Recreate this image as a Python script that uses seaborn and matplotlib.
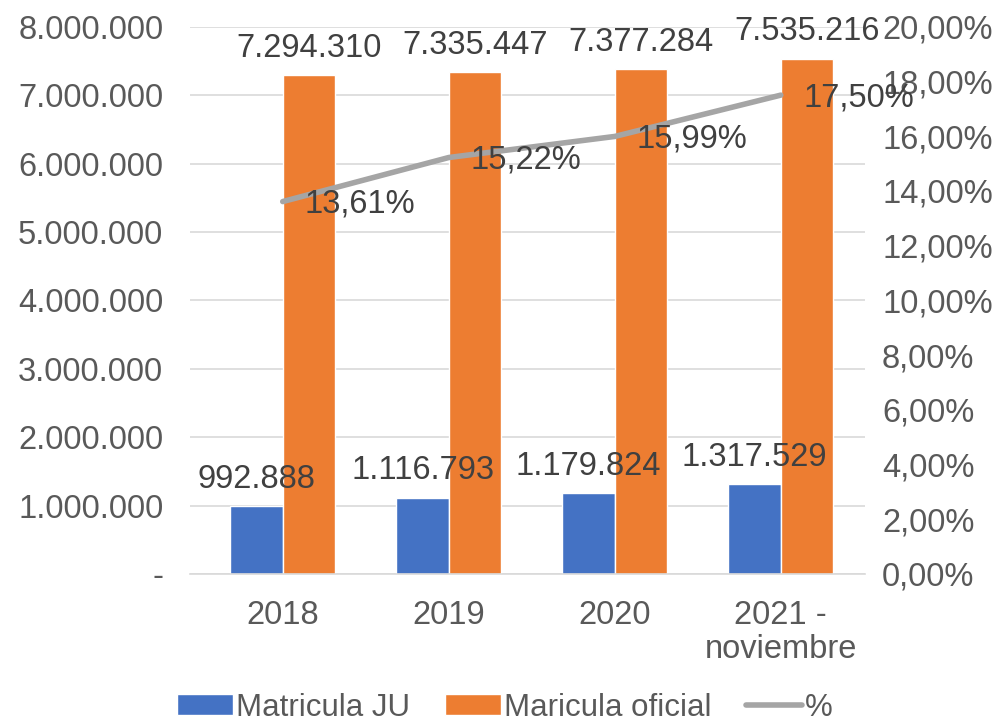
import numpy as np
import pandas as pd
import matplotlib
matplotlib.use("Agg")
import matplotlib.pyplot as plt
import seaborn as sns
from matplotlib.patches import Patch
from matplotlib.lines import Line2D
from matplotlib.ticker import FuncFormatter, MultipleLocator

categories = ["2018", "2019", "2020", "2021 -\nnoviembre"]
matricula_ju = [992888, 1116793, 1179824, 1317529]
matricula_oficial = [7294310, 7335447, 7377284, 7535216]
porcentaje = [13.61, 15.22, 15.99, 17.50]
series_names = ["Matricula JU", "Maricula oficial", "%"]
colors = ["#4472C4", "#ED7D31", "#A5A5A5"]

sns.set_theme(style="white")
plt.rcParams["font.family"] = ["Liberation Sans", "DejaVu Sans"]

FS = 23.5

df = pd.DataFrame({
    "cat": categories * 2,
    "serie": [series_names[0]] * 4 + [series_names[1]] * 4,
    "valor": matricula_ju + matricula_oficial,
})

fig = plt.figure(figsize=(10.04, 7.22), dpi=100)
ax = fig.add_axes([0.189, 0.205, 0.673, 0.758])
sns.barplot(data=df, x="cat", y="valor", hue="serie", order=categories,
            hue_order=series_names[:2], palette=colors[:2], width=0.63,
            saturation=1, ax=ax, legend=False)

def thousands(v):
    return f"{int(round(v)):,}".replace(",", ".")

for cont in ax.containers:
    vals = [thousands(b.get_height()) for b in cont]
    ax.bar_label(cont, labels=vals, fontsize=FS, color="#404040", padding=8)

ax.set_ylim(0, 8000000)
ax.yaxis.set_major_locator(MultipleLocator(1000000))
ax.yaxis.set_major_formatter(FuncFormatter(lambda v, p: "-" if v == 0 else thousands(v)))
ax.set_xlim(-0.56, 3.51)
ax.grid(axis="y", color="#D9D9D9", linewidth=1.2)
ax.set_axisbelow(True)
ax.set_xlabel("")
ax.set_ylabel("")
for s in ["top", "left", "right"]:
    ax.spines[s].set_visible(False)
ax.spines["bottom"].set_color("#D9D9D9")
ax.spines["bottom"].set_linewidth(1.2)
ax.tick_params(axis="both", length=0, labelsize=FS, labelcolor="#595959")
ax.tick_params(axis="y", pad=19)
ax.tick_params(axis="x", pad=19)
for lbl in ax.get_xticklabels():
    lbl.set_linespacing(1.12)

ax2 = ax.twinx()
xpos = np.arange(len(categories))
sns.lineplot(x=xpos, y=porcentaje, ax=ax2, color=colors[2], linewidth=4)
ax2.set_ylim(0, 20)
ax2.yaxis.set_major_locator(MultipleLocator(2))
ax2.yaxis.set_major_formatter(FuncFormatter(lambda v, p: f"{v:.2f}".replace(".", ",") + "%"))
ax2.tick_params(axis="y", length=0, labelsize=FS, labelcolor="#595959", pad=12)
for s in ["top", "left", "right", "bottom"]:
    ax2.spines[s].set_visible(False)
ax2.set_ylabel("")
ax2.set_xlim(-0.56, 3.51)
for xp, p in zip(xpos, porcentaje):
    ax2.annotate(f"{p:.2f}".replace(".", ",") + "%", (xp, p), xytext=(16, -2),
                 textcoords="offset points", fontsize=FS, color="#404040",
                 ha="left", va="center")

handles = [Patch(facecolor=colors[0]), Patch(facecolor=colors[1]),
           Line2D([0], [0], color=colors[2], linewidth=4)]
leg = fig.legend(handles, series_names, loc="center", bbox_to_anchor=(0.503, 0.02),
                 ncol=3, frameon=False, fontsize=22.5, handlelength=1.8,
                 handleheight=0.64, handletextpad=0.1, columnspacing=1.1)
for t in leg.get_texts():
    t.set_color("#595959")

fig.savefig("out.png", dpi=100)
